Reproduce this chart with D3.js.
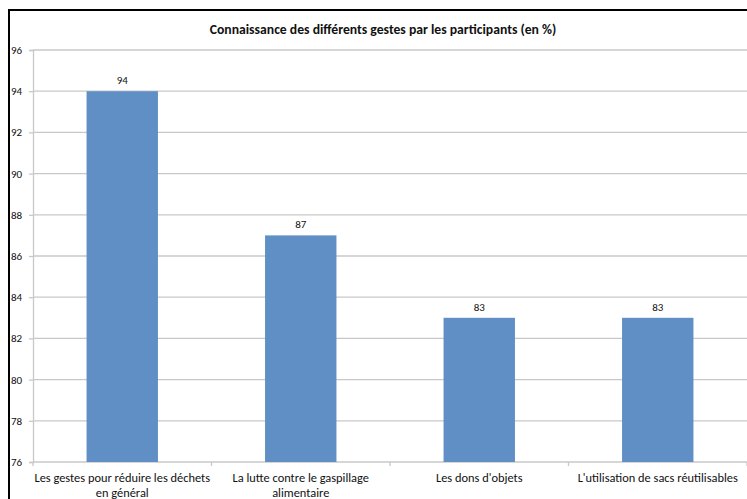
<!DOCTYPE html>
<html><head><meta charset="utf-8">
<script src="https://cdn.jsdelivr.net/npm/d3@7"></script>
<style>body{margin:0;background:#fff}svg{display:block}</style>
</head><body>
<script>
const categories = [["Les gestes pour réduire les déchets","en général"],["La lutte contre le gaspillage","alimentaire"],["Les dons d'objets"],["L'utilisation de sacs réutilisables"]];
const values = [94, 87, 83, 83];
const yTicks = [76, 78, 80, 82, 84, 86, 88, 90, 92, 94, 96];
const title = "Connaissance des différents gestes par les participants (en %)";

const W = 747, H = 499;
const svg = d3.select("body").append("svg").attr("width", W).attr("height", H);
const font = "Carlito, Lato, 'Open Sans', sans-serif";

svg.append("rect").attr("x", 9).attr("y", 10).attr("width", 800).attr("height", 600)
  .attr("fill", "none").attr("stroke", "#000").attr("stroke-width", 2);

const x = d3.scaleBand().domain(d3.range(values.length)).range([33, 747]).paddingInner(0.6).paddingOuter(0.3);
const y = d3.scaleLinear().domain([76, 96]).range([462, 50]);

// gridlines
svg.append("g").selectAll("line").data(yTicks.slice(1)).join("line")
  .attr("x1", 33).attr("x2", W).attr("y1", d => y(d)).attr("y2", d => y(d))
  .attr("stroke", "#c8c8c8").attr("stroke-width", 1.3);

// y axis
const ya = svg.append("g").attr("transform", "translate(33,0)")
  .call(d3.axisLeft(y).tickValues(yTicks).tickSize(4).tickPadding(8));
ya.select(".domain").attr("stroke", "#c8c8c8").attr("stroke-width", 1.3);
ya.selectAll(".tick line").attr("stroke", "#c8c8c8").attr("stroke-width", 1.3);
ya.selectAll(".tick text").attr("font-family", font).attr("font-size", 11).attr("fill", "#111")
  .attr("text-anchor", "start").attr("x", -22);

// x axis
svg.append("line").attr("x1", 33).attr("x2", W).attr("y1", y(76)).attr("y2", y(76))
  .attr("stroke", "#c8c8c8").attr("stroke-width", 1.3);
const step = x.step();
svg.append("g").selectAll("line").data(d3.range(values.length + 1)).join("line")
  .attr("x1", i => 33 + i * step).attr("x2", i => 33 + i * step)
  .attr("y1", y(76)).attr("y2", y(76) + 4)
  .attr("stroke", "#c8c8c8").attr("stroke-width", 1.3);

// bars
svg.append("g").selectAll("rect").data(values).join("rect")
  .attr("x", (d, i) => x(i)).attr("width", x.bandwidth())
  .attr("y", d => y(d)).attr("height", d => y(76) - y(d))
  .attr("fill", "#5f8fc5");

// value labels
svg.append("g").selectAll("text").data(values).join("text")
  .attr("x", (d, i) => x(i) + x.bandwidth() / 2).attr("y", d => y(d) - 7)
  .attr("text-anchor", "middle").attr("font-family", font).attr("font-size", 11).attr("fill", "#111")
  .text(d => d);

// category labels
const cl = svg.append("g").selectAll("text").data(categories).join("text")
  .attr("x", (d, i) => x(i) + x.bandwidth() / 2).attr("y", 482)
  .attr("text-anchor", "middle").attr("font-family", font).attr("font-size", 12.4).attr("fill", "#111");
cl.selectAll("tspan").data((d, i) => d.map(t => ({t, i}))).join("tspan")
  .attr("x", d => x(d.i) + x.bandwidth() / 2).attr("dy", (d, j) => j === 0 ? 0 : 15)
  .text(d => d.t);

svg.append("text").attr("x", 383).attr("y", 34).attr("text-anchor", "middle")
  .attr("font-family", font).attr("font-size", 13.7).attr("font-weight", "bold").attr("fill", "#111")
  .text(title);
</script>
</body></html>
